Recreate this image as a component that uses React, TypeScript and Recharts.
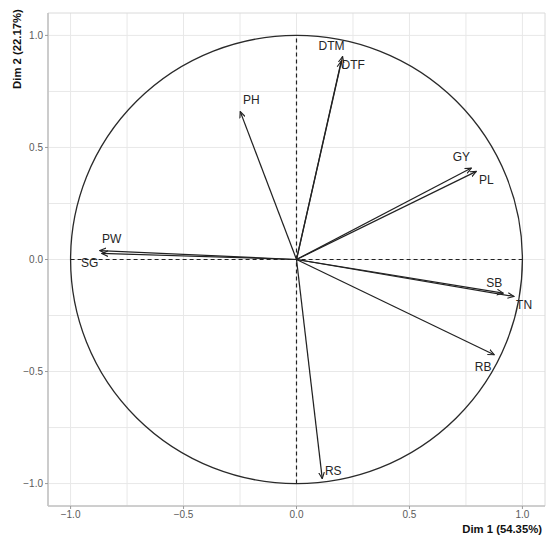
import React from "react";
import {
  ScatterChart, Scatter, XAxis, YAxis, CartesianGrid, ReferenceLine, ReferenceArea, Label,
} from "recharts";

// ---------------------------------------------------------------------------
// Data: PCA variable coordinates (Dim 1, Dim 2)
// ---------------------------------------------------------------------------
const variables = ["DTM", "DTF", "PH", "PW", "SG", "GY", "PL", "SB", "TN", "RB", "RS"];
const dim1 = [0.204, 0.198, -0.249, -0.871, -0.862, 0.774, 0.796, 0.915, 0.963, 0.875, 0.114];
const dim2 = [0.906, 0.885, 0.66, 0.04, 0.027, 0.408, 0.393, -0.15, -0.165, -0.425, -0.978];

const ticks = [-1, -0.5, 0, 0.5, 1];
const gridValues = [-1, -0.75, -0.5, -0.25, 0, 0.25, 0.5, 0.75, 1];
const domain: [number, number] = [-1.1, 1.1];

// label offsets in px from the arrow tip (repel-like placement)
const labelOffset: Record<string, [number, number]> = {
  DTM: [-11, -10], DTF: [12, 4], PH: [11, -12], PW: [12, -12], SG: [-12, 10],
  GY: [-10, -11], PL: [10, 9], SB: [-9, -10], TN: [10, 9], RB: [-11, 12], RS: [11, -8],
};

const font = "'Liberation Sans', Arial, sans-serif";
const tickStyle = { fontSize: 10, fill: "#5a5a5a", fontFamily: font };
const fmt = (v: number) => (v < 0 ? "\u2212" : "") + Math.abs(v).toFixed(1);

const tips = variables.map((name, i) => ({ name, x: dim1[i], y: dim2[i] }));

function LabelShape(props: any) {
  const { cx, cy, payload } = props;
  const [dx, dy] = labelOffset[payload.name] || [0, 0];
  return (
    <text x={cx + dx} y={cy + dy} textAnchor="middle" dominantBaseline="central"
      fontSize={12} fill="#262626" fontFamily={font}>
      {payload.name}
    </text>
  );
}

const Nothing = () => <g />;

export default function App() {
  return (
    <div style={{ position: "absolute", left: 0, top: 0, width: 550, height: 542, background: "#fff" }}>
      <svg width={0} height={0} style={{ position: "absolute" }}>
        <defs>
          <marker id="arr" viewBox="0 0 10 10" refX="9" refY="5" markerWidth="7" markerHeight="7"
            orient="auto" markerUnits="userSpaceOnUse">
            <path d="M0,1 L9,5 L0,9" fill="none" stroke="#222" strokeWidth={1.6} />
          </marker>
        </defs>
      </svg>
      <ScatterChart width={550} height={542} margin={{ top: 13, right: 5, left: 0, bottom: 0 }}>
        <CartesianGrid stroke="#e8e8e8" verticalValues={gridValues} horizontalValues={gridValues} />
        <ReferenceArea x1={domain[0]} x2={domain[1]} y1={domain[0]} y2={domain[1]}
          fill="none" stroke="#dadada" strokeWidth={1} />
        <XAxis type="number" dataKey="x" domain={domain} ticks={ticks} tickFormatter={fmt}
          allowDataOverflow tick={tickStyle} tickSize={3} tickMargin={2}
          axisLine={{ stroke: "#c4c4c4", strokeWidth: 1.6 }}
          tickLine={{ stroke: "#9a9a9a" }} height={36}>
          <Label
            content={(p: any) => (
              <text x={p.viewBox.x + p.viewBox.width - 3} y={p.viewBox.y + 23} textAnchor="end"
                dominantBaseline="central" fontSize={11.3} fontWeight="bold" fill="#111" fontFamily={font}>
                Dim 1 (54.35%)
              </text>
            )}
          />
        </XAxis>
        <YAxis type="number" dataKey="y" domain={domain} ticks={ticks} tickFormatter={fmt}
          allowDataOverflow tick={tickStyle} tickSize={3} tickMargin={2}
          axisLine={{ stroke: "#c4c4c4", strokeWidth: 1.6 }}
          tickLine={{ stroke: "#9a9a9a" }} width={48}>
          <Label
            content={(p: any) => (
              <text x={p.viewBox.x + 17} y={p.viewBox.y + 36} textAnchor="middle"
                dominantBaseline="central" fontSize={11.3} fontWeight="bold" fill="#111" fontFamily={font}
                transform={`rotate(-90 ${p.viewBox.x + 17} ${p.viewBox.y + 36})`}>
                Dim 2 (22.17%)
              </text>
            )}
          />
        </YAxis>

        {/* unit correlation circle */}
        <ReferenceArea x1={-1} x2={1} y1={-1} y2={1}
          shape={(p: any) => (
            <ellipse cx={p.x + p.width / 2} cy={p.y + p.height / 2} rx={p.width / 2} ry={p.height / 2}
              fill="none" stroke="#2a2a2a" strokeWidth={1.3} />
          )}
        />
        <ReferenceLine segment={[{ x: 0, y: -1 }, { x: 0, y: 1 }]} stroke="#222" strokeWidth={1.2} strokeDasharray="4 3" />
        <ReferenceLine segment={[{ x: -1, y: 0 }, { x: 1, y: 0 }]} stroke="#222" strokeWidth={1.2} strokeDasharray="4 3" />

        {tips.map((t) => (
          <Scatter key={t.name} data={[{ x: 0, y: 0 }, { x: t.x, y: t.y }]} shape={Nothing}
            line={{ stroke: "#222", strokeWidth: 1.25, markerEnd: "url(#arr)" }}
            fill="#222" legendType="none" isAnimationActive={false} />
        ))}
        <Scatter data={tips} shape={LabelShape} isAnimationActive={false} legendType="none" />
      </ScatterChart>
    </div>
  );
}
